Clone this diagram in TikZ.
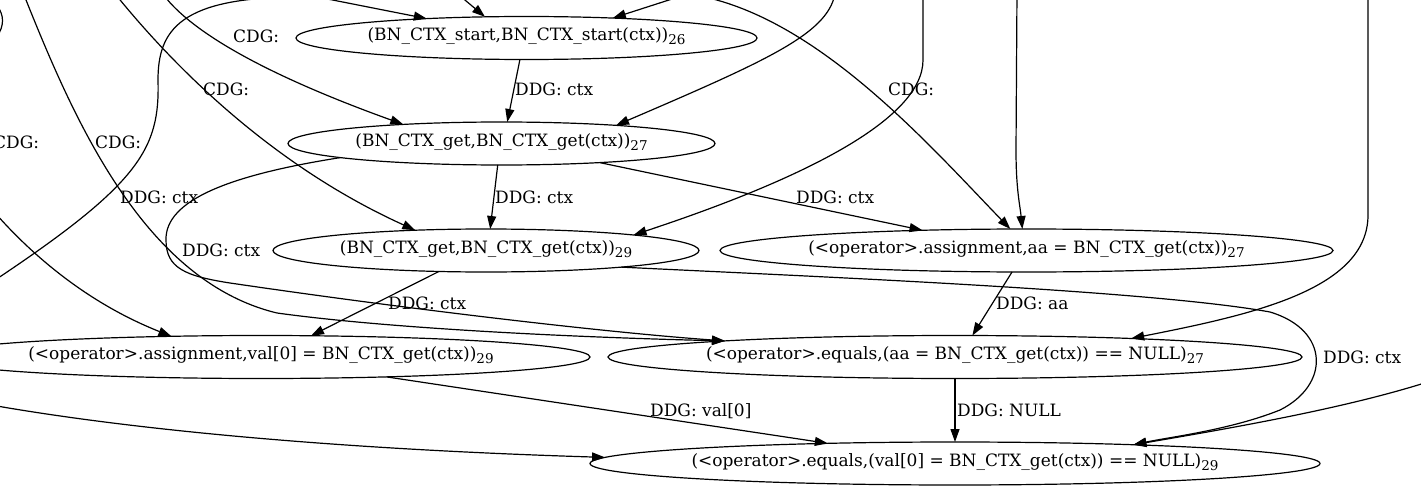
\documentclass[tikz,border=0pt]{standalone}
\usepackage{fontspec}
\setmainfont{DejaVu Serif}
\usetikzlibrary{arrows.meta,shapes.geometric}
\newcommand\gsub[1]{\raisebox{-4pt}{\fontsize{13.5}{14}\selectfont #1}}
\begin{document}
\begin{tikzpicture}[x=1pt,y=-1pt,
  every node/.style={font=\fontsize{17}{20}\selectfont},
  every label/.append style={yshift=1.5pt},
  gn/.style={draw, ellipse, line width=1.2pt, inner sep=0pt, outer sep=0pt, minimum height=43pt},
  lab/.style={inner sep=0pt, anchor=west, text height=12pt, text depth=0pt},
  edge/.style={line width=1.2pt, -{Triangle[length=13pt,width=9pt]}},
  ln/.style={line width=1.2pt}]
\useasboundingbox (0,0) rectangle (1421,500);
\clip (0,0) rectangle (1421,500);

% nodes
\node[gn, minimum width=461pt, label={center:{(BN\_CTX\_start,BN\_CTX\_start(ctx))\gsub{26}}}] (n26) at (526.5,38) {};
\node[gn, minimum width=427pt, label={center:{(BN\_CTX\_get,BN\_CTX\_get(ctx))\gsub{27}}}] (g27) at (501.5,143.5) {};
\node[gn, minimum width=426pt, label={center:{(BN\_CTX\_get,BN\_CTX\_get(ctx))\gsub{29}}}] (g29) at (486,250.5) {};
\node[gn, minimum width=613pt, label={center:{(<operator>.assignment,aa = BN\_CTX\_get(ctx))\gsub{27}}}] (aa) at (1026.5,250.5) {};
\node[gn, minimum width=658pt, label={center:{(<operator>.assignment,val[0] = BN\_CTX\_get(ctx))\gsub{29}}}] (val) at (261,357) {};
\node[gn, minimum width=694pt, label={center:{(<operator>.equals,(aa = BN\_CTX\_get(ctx)) == NULL)\gsub{27}}}] (eqaa) at (955,357) {};
\node[gn, minimum width=730pt, label={center:{(<operator>.equals,(val[0] = BN\_CTX\_get(ctx)) == NULL)\gsub{29}}}] (eqval) at (955,463.5) {};

% free ends
\coordinate (t1) at (287,-9);
\coordinate (t2) at (453,-10);
\coordinate (t3) at (700,-10);
\coordinate (t4) at (112,-10);
\coordinate (t5) at (160,-10);
\coordinate (t6) at (300,-3);
\coordinate (e6) at (-20,290);
\coordinate (t7) at (22,-10);
\coordinate (t8) at (-20,195);
\coordinate (t12) at (836,-15);
\coordinate (t13) at (700,-4);
\coordinate (t14) at (923,-10);
\coordinate (t15) at (1017,-10);
\coordinate (t16) at (1368,-10);
\coordinate (t21) at (1440,378);
\coordinate (t22) at (-20,403);
\coordinate (a0) at (-20,-5);
\coordinate (a1) at (-20,50);

% edges
\draw[ln] (a0) .. controls (10,5) and (10,35) .. (a1);
\draw[edge] (t1) -- (n26.169);
\draw[edge] (t2) -- (n26.153.6);
\draw[edge] (t3) -- (n26.13.8);
\draw[edge] (n26.253.5) -- (g27.75.7);
\draw[edge] (t4) .. controls (160,50) and (260,160) .. (g29.164.5);
\draw[edge] (t5) .. controls (190,35) and (280,80) .. (g27.169.5);
\draw[ln] (t6) .. controls (180,-3) and (158,30) .. (158,80) .. controls (160,150) and (140,185) .. (e6);
\draw[edge] (t7) .. controls (70,110) and (140,280) .. (277,313) .. controls (400,330) and (600,338) .. (eqaa.176.8);
\draw[edge] (t8) .. controls (20,245) and (80,300) .. (val.167.2);
\draw[edge] (g27.185.2) .. controls (230,175) and (165,200) .. (166,240) .. controls (166,268) and (185,276) .. (230,283) .. controls (400,308) and (600,332) .. (eqaa.176);
\draw[edge] (g27.260.75) -- (g29.79.2);
\draw[edge] (g27.349) -- (aa.169);
\draw[edge] (t12) .. controls (835,30) and (780,55) .. (g27.9.7);
\draw[edge] (t13) .. controls (820,20) and (930,146) .. (aa.127.6);
\draw[edge] (t14) -- (923,60) .. controls (923,120) and (800,180) .. (g29.6.1);
\draw[edge] (t15) -- (1016,150) .. controls (1016,190) and (1020,205) .. (aa.101.8);
\draw[edge] (t16) -- (1368,215) .. controls (1368,290) and (1250,315) .. (eqaa.6);
\draw[edge] (aa.236) -- (eqaa.51);
\draw[edge] (eqaa.south) -- (eqval.north);
\draw[edge] (val.351.8) -- (eqval.171.6);
\draw[edge] (g29.353.9) .. controls (800,276) and (1150,290) .. (1270,312) .. controls (1330,330) and (1330,385) .. (1280,410) .. controls (1230,430) and (1170,437) .. (eqval.6.3);
\draw[edge] (t21) .. controls (1360,405) and (1250,425) .. (eqval.6.3);
\draw[edge] (t22) .. controls (100,425) and (300,448) .. (eqval.179.5);
\draw[edge] (g29.204.5) -- (val.23.5);

% edge labels
\node[lab] at (233,37) {CDG:};
\node[lab] at (203,90) {CDG:};
\node[lab] at (95,143) {CDG:};
\node[lab] at (-7,143) {CDG:};
\node[lab] at (888,90) {CDG:};
\node[lab] at (515,90) {DDG: ctx};
\node[lab] at (120,197) {DDG: ctx};
\node[lab] at (495,197) {DDG: ctx};
\node[lab] at (796,197) {DDG: ctx};
\node[lab] at (182,250) {DDG: ctx};
\node[lab] at (388,303) {DDG: ctx};
\node[lab] at (996,303) {DDG: aa};
\node[lab] at (650,410) {DDG: val[0]};
\node[lab] at (957,410) {DDG: NULL};
\node[lab] at (1323,357) {DDG: ctx};
\end{tikzpicture}
\end{document}
